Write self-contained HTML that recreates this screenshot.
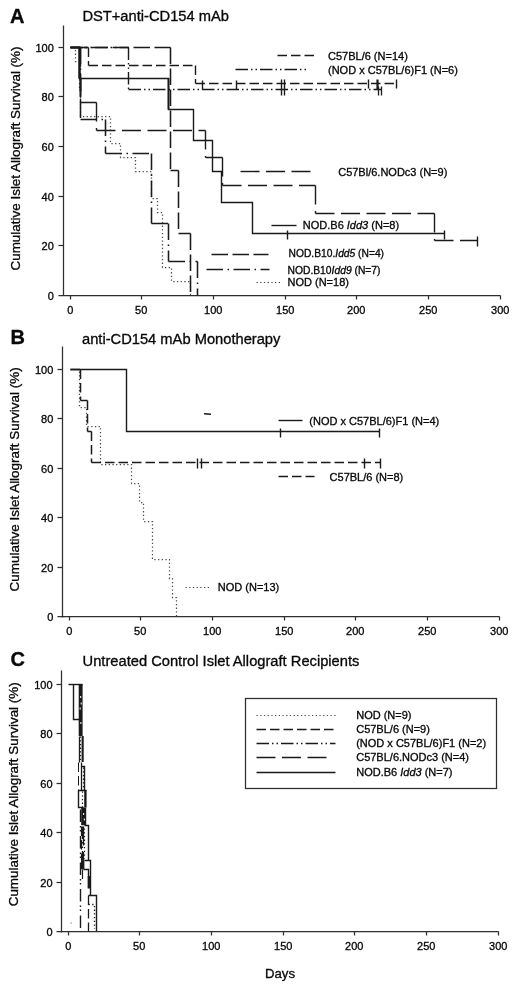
<!DOCTYPE html>
<html lang="en"><head><meta charset="utf-8"><title>Cumulative Islet Allograft Survival</title>
<style>html,body{margin:0;padding:0;background:#fff}svg{display:block}
text{font-family:"Liberation Sans",Arial,sans-serif;fill:#080808;stroke:#080808;stroke-width:0.32px}</style>
</head><body>
<svg width="520" height="984" viewBox="0 0 520 984">
<rect width="520" height="984" fill="#fff"/>
<text x="10.00" y="22.50" font-size="20.00" text-anchor="start" font-weight="bold" >A</text>
<text x="82.40" y="21.40" font-size="14.70" text-anchor="start" font-weight="normal" >DST+anti-CD154 mAb</text>
<path d="M63.5 25.5 L63.5 295.5" fill="none" stroke="#2e2e2e" stroke-width="1.25" />
<path d="M58.5 295.5 L500.5 295.5" fill="none" stroke="#2e2e2e" stroke-width="1.25" />
<path d="M58.5 245.5 L63.5 245.5" fill="none" stroke="#2e2e2e" stroke-width="1.25" />
<path d="M58.5 196.5 L63.5 196.5" fill="none" stroke="#2e2e2e" stroke-width="1.25" />
<path d="M58.5 146.5 L63.5 146.5" fill="none" stroke="#2e2e2e" stroke-width="1.25" />
<path d="M58.5 96.5 L63.5 96.5" fill="none" stroke="#2e2e2e" stroke-width="1.25" />
<path d="M58.5 47.5 L63.5 47.5" fill="none" stroke="#2e2e2e" stroke-width="1.25" />
<text x="53.80" y="299.60" font-size="11.00" text-anchor="end" font-weight="normal" >0</text>
<text x="53.80" y="249.60" font-size="11.00" text-anchor="end" font-weight="normal" >20</text>
<text x="53.80" y="200.60" font-size="11.00" text-anchor="end" font-weight="normal" >40</text>
<text x="53.80" y="150.60" font-size="11.00" text-anchor="end" font-weight="normal" >60</text>
<text x="53.80" y="100.60" font-size="11.00" text-anchor="end" font-weight="normal" >80</text>
<text x="53.80" y="51.60" font-size="11.00" text-anchor="end" font-weight="normal" >100</text>
<path d="M70.5 295.5 L70.5 299.5" fill="none" stroke="#2e2e2e" stroke-width="1.25" />
<text x="70.20" y="314.00" font-size="11.00" text-anchor="middle" font-weight="normal" >0</text>
<path d="M141.5 295.5 L141.5 299.5" fill="none" stroke="#2e2e2e" stroke-width="1.25" />
<text x="141.20" y="314.00" font-size="11.00" text-anchor="middle" font-weight="normal" >50</text>
<path d="M213.5 295.5 L213.5 299.5" fill="none" stroke="#2e2e2e" stroke-width="1.25" />
<text x="213.20" y="314.00" font-size="11.00" text-anchor="middle" font-weight="normal" >100</text>
<path d="M285.5 295.5 L285.5 299.5" fill="none" stroke="#2e2e2e" stroke-width="1.25" />
<text x="285.20" y="314.00" font-size="11.00" text-anchor="middle" font-weight="normal" >150</text>
<path d="M356.5 295.5 L356.5 299.5" fill="none" stroke="#2e2e2e" stroke-width="1.25" />
<text x="356.20" y="314.00" font-size="11.00" text-anchor="middle" font-weight="normal" >200</text>
<path d="M428.5 295.5 L428.5 299.5" fill="none" stroke="#2e2e2e" stroke-width="1.25" />
<text x="428.20" y="314.00" font-size="11.00" text-anchor="middle" font-weight="normal" >250</text>
<path d="M500.5 295.5 L500.5 299.5" fill="none" stroke="#2e2e2e" stroke-width="1.25" />
<text x="500.20" y="314.00" font-size="11.00" text-anchor="middle" font-weight="normal" >300</text>
<text transform="translate(19.90 158.50) rotate(-90)" font-size="13.45" text-anchor="middle">Cumulative Islet Allograft Survival (%)</text>
<path d="M70.5 47.5 L75.5 47.5 L75.5 61.5 L79.5 61.5 L79.5 88.5 L80.5 88.5 L80.5 116.5 L110.5 116.5 L110.5 143.5 L120.5 143.5 L120.5 157.5 L135.5 157.5 L135.5 171.5 L151.5 171.5 L151.5 198.5 L157.5 198.5 L157.5 212.5 L162.5 212.5 L162.5 267.5 L171.5 267.5 L171.5 281.5 L190.5 281.5 L190.5 295.5" fill="none" stroke="#4a4a4a" stroke-width="1.25" stroke-dasharray="1.3 2.4"/>
<path d="M70.5 47.5 L80.5 47.5 M80.5 47.5 L80.5 119.5 M80.5 119.5 L105.5 119.5 M105.5 119.5 L105.5 153.5 M105.5 153.5 L151.5 153.5 M151.5 153.5 L151.5 223.5 M151.5 223.5 L168.5 223.5 M168.5 223.5 L168.5 261.5 M168.5 261.5 L197.5 261.5 M197.5 261.5 L197.5 295.5" fill="none" stroke="#1a1a1a" stroke-width="1.55" stroke-dasharray="16.5 4.5 1.5 4.5"/>
<path d="M70.5 47.5 L170.5 47.5 M170.5 47.5 L170.5 170.5 M170.5 170.5 L178.5 170.5 M178.5 170.5 L178.5 233.5 M178.5 233.5 L190.5 233.5 M190.5 233.5 L190.5 295.5" fill="none" stroke="#1a1a1a" stroke-width="1.55" stroke-dasharray="16.5 4.5"/>
<path d="M70.5 47.5 L80.5 47.5 M80.5 47.5 L80.5 102.5 M80.5 102.5 L96.5 102.5 M96.5 102.5 L96.5 130.5 M96.5 130.5 L205.5 130.5 M205.5 130.5 L205.5 157.5 M205.5 157.5 L222.5 157.5 M222.5 157.5 L222.5 185.5 M222.5 185.5 L315.5 185.5 M315.5 185.5 L315.5 213.5 M315.5 213.5 L434.5 213.5 M434.5 213.5 L434.5 240.5 M434.5 240.5 L477.5 240.5" fill="none" stroke="#1a1a1a" stroke-width="1.40" stroke-dasharray="19 6.5"/>
<path d="M477.5 236.5 L477.5 246.5" fill="none" stroke="#1a1a1a" stroke-width="1.40" />
<path d="M70.5 47.5 L79.5 47.5 L79.5 78.5 L168.5 78.5 L168.5 109.5 L193.5 109.5 L193.5 140.5 L212.5 140.5 L212.5 171.5 L221.5 171.5 L221.5 202.5 L252.5 202.5 L252.5 233.5 L444.5 233.5" fill="none" stroke="#1a1a1a" stroke-width="1.40" />
<path d="M287.5 230.5 L287.5 239.5" fill="none" stroke="#1a1a1a" stroke-width="1.40" />
<path d="M444.5 230.5 L444.5 239.5" fill="none" stroke="#1a1a1a" stroke-width="1.40" />
<path d="M79.5 47.5 L79.5 78.5" fill="none" stroke="#1a1a1a" stroke-width="2.40" />
<path d="M80.5 78.5 L80.5 96.5" fill="none" stroke="#1a1a1a" stroke-width="2.00" />
<path d="M168.5 78.5 L168.5 109.5" fill="none" stroke="#1a1a1a" stroke-width="1.80" />
<path d="M70.5 47.5 L88.5 47.5 M88.5 47.5 L88.5 65.5 M88.5 65.5 L195.5 65.5 M195.5 65.5 L195.5 83.5 M195.5 83.5 L396.5 83.5" fill="none" stroke="#1a1a1a" stroke-width="1.40" stroke-dasharray="9.5 4"/>
<path d="M368.5 79.5 L368.5 88.5" fill="none" stroke="#1a1a1a" stroke-width="1.40" />
<path d="M396.5 79.5 L396.5 88.5" fill="none" stroke="#1a1a1a" stroke-width="1.40" />
<path d="M377.5 79.5 L377.5 89.5" fill="none" stroke="#1a1a1a" stroke-width="2.20" />
<path d="M70.5 47.5 L128.5 47.5 M128.5 47.5 L128.5 89.5 M128.5 89.5 L381.5 89.5" fill="none" stroke="#1a1a1a" stroke-width="1.40" stroke-dasharray="12.5 3 1.5 3 1.5 3"/>
<path d="M202.5 80.5 L202.5 89.5" fill="none" stroke="#1a1a1a" stroke-width="1.40" />
<path d="M236.5 80.5 L236.5 89.5" fill="none" stroke="#1a1a1a" stroke-width="1.40" />
<path d="M281.5 79.5 L281.5 95.5" fill="none" stroke="#1a1a1a" stroke-width="1.40" />
<path d="M284.5 79.5 L284.5 95.5" fill="none" stroke="#1a1a1a" stroke-width="1.40" />
<path d="M378.5 86.5 L378.5 95.5" fill="none" stroke="#1a1a1a" stroke-width="1.30" />
<path d="M381.5 86.5 L381.5 95.5" fill="none" stroke="#1a1a1a" stroke-width="1.30" />
<path d="M151.5 182.5 L151.5 187.5" fill="none" stroke="#1a1a1a" stroke-width="1.00" />
<path d="M277.5 55.5 L315.5 55.5" fill="none" stroke="#1a1a1a" stroke-width="1.40" stroke-dasharray="9.5 4"/>
<text x="328.00" y="59.50" font-size="11.00" text-anchor="start" font-weight="normal" >C57BL/6 (N=14)</text>
<path d="M235.5 69.5 L308.5 69.5" fill="none" stroke="#1a1a1a" stroke-width="1.40" stroke-dasharray="12.5 3 1.5 3 1.5 3"/>
<text x="328.00" y="74.40" font-size="11.00" text-anchor="start" font-weight="normal" >(NOD x C57BL/6)F1 (N=6)</text>
<path d="M240.5 171.5 L311.5 171.5" fill="none" stroke="#1a1a1a" stroke-width="1.40" stroke-dasharray="19 6.5"/>
<text x="338.20" y="176.00" font-size="11.00" text-anchor="start" font-weight="normal" >C57Bl/6.NODc3 (N=9)</text>
<path d="M271.5 225.5 L296.5 225.5" fill="none" stroke="#1a1a1a" stroke-width="1.40" />
<text x="302.80" y="229.20" font-size="11.00" text-anchor="start" font-weight="normal" >NOD.B6 <tspan font-style="italic">Idd3</tspan> (N=8)</text>
<path d="M211.5 254.5 L268.5 254.5" fill="none" stroke="#1a1a1a" stroke-width="1.70" stroke-dasharray="16.5 4.5"/>
<text x="288.60" y="257.40" font-size="10.25" text-anchor="start" font-weight="normal" >NOD.B10.<tspan font-style="italic">Idd5</tspan> (N=4)</text>
<path d="M206.5 269.5 L269.5 269.5" fill="none" stroke="#1a1a1a" stroke-width="1.70" stroke-dasharray="16.5 4.5 1.5 4.5"/>
<text x="287.50" y="274.00" font-size="10.30" text-anchor="start" font-weight="normal" >NOD.B10<tspan font-style="italic">Idd9</tspan> (N=7)</text>
<path d="M256.5 282.5 L282.5 282.5" fill="none" stroke="#444" stroke-width="1.20" stroke-dasharray="1.3 2.4"/>
<text x="287.50" y="285.60" font-size="11.00" text-anchor="start" font-weight="normal" >NOD (N=18)</text>
<text x="10.60" y="344.40" font-size="20.00" text-anchor="start" font-weight="bold" >B</text>
<text x="82.00" y="343.70" font-size="14.70" text-anchor="start" font-weight="normal" >anti-CD154 mAb Monotherapy</text>
<path d="M62.5 346.5 L62.5 617.5" fill="none" stroke="#2e2e2e" stroke-width="1.25" />
<path d="M57.5 616.5 L499.5 616.5" fill="none" stroke="#2e2e2e" stroke-width="1.25" />
<path d="M57.5 567.5 L62.5 567.5" fill="none" stroke="#2e2e2e" stroke-width="1.25" />
<path d="M57.5 517.5 L62.5 517.5" fill="none" stroke="#2e2e2e" stroke-width="1.25" />
<path d="M57.5 468.5 L62.5 468.5" fill="none" stroke="#2e2e2e" stroke-width="1.25" />
<path d="M57.5 418.5 L62.5 418.5" fill="none" stroke="#2e2e2e" stroke-width="1.25" />
<path d="M57.5 369.5 L62.5 369.5" fill="none" stroke="#2e2e2e" stroke-width="1.25" />
<text x="53.32" y="620.60" font-size="11.00" text-anchor="end" font-weight="normal" >0</text>
<text x="53.32" y="571.60" font-size="11.00" text-anchor="end" font-weight="normal" >20</text>
<text x="53.32" y="521.60" font-size="11.00" text-anchor="end" font-weight="normal" >40</text>
<text x="53.32" y="472.60" font-size="11.00" text-anchor="end" font-weight="normal" >60</text>
<text x="53.32" y="422.60" font-size="11.00" text-anchor="end" font-weight="normal" >80</text>
<text x="53.32" y="373.60" font-size="11.00" text-anchor="end" font-weight="normal" >100</text>
<path d="M69.5 616.5 L69.5 620.5" fill="none" stroke="#2e2e2e" stroke-width="1.25" />
<text x="69.20" y="635.30" font-size="11.00" text-anchor="middle" font-weight="normal" >0</text>
<path d="M140.5 616.5 L140.5 620.5" fill="none" stroke="#2e2e2e" stroke-width="1.25" />
<text x="140.20" y="635.30" font-size="11.00" text-anchor="middle" font-weight="normal" >50</text>
<path d="M212.5 616.5 L212.5 620.5" fill="none" stroke="#2e2e2e" stroke-width="1.25" />
<text x="212.20" y="635.30" font-size="11.00" text-anchor="middle" font-weight="normal" >100</text>
<path d="M284.5 616.5 L284.5 620.5" fill="none" stroke="#2e2e2e" stroke-width="1.25" />
<text x="284.20" y="635.30" font-size="11.00" text-anchor="middle" font-weight="normal" >150</text>
<path d="M355.5 616.5 L355.5 620.5" fill="none" stroke="#2e2e2e" stroke-width="1.25" />
<text x="355.20" y="635.30" font-size="11.00" text-anchor="middle" font-weight="normal" >200</text>
<path d="M427.5 616.5 L427.5 620.5" fill="none" stroke="#2e2e2e" stroke-width="1.25" />
<text x="427.20" y="635.30" font-size="11.00" text-anchor="middle" font-weight="normal" >250</text>
<path d="M499.5 616.5 L499.5 620.5" fill="none" stroke="#2e2e2e" stroke-width="1.25" />
<text x="499.20" y="635.30" font-size="11.00" text-anchor="middle" font-weight="normal" >300</text>
<text transform="translate(19.10 479.40) rotate(-90)" font-size="13.45" text-anchor="middle">Cumulative Islet Allograft Survival (%)</text>
<path d="M70.5 369.5 L79.5 369.5 L79.5 407.5 L86.5 407.5 L86.5 426.5 L100.5 426.5 L100.5 464.5 L131.5 464.5 L131.5 483.5 L139.5 483.5 L139.5 502.5 L143.5 502.5 L143.5 521.5 L152.5 521.5 L152.5 559.5 L169.5 559.5 L169.5 578.5 L172.5 578.5 L172.5 597.5 L176.5 597.5 L176.5 616.5" fill="none" stroke="#4a4a4a" stroke-width="1.25" stroke-dasharray="1.3 2.4"/>
<path d="M70.5 369.5 L80.5 369.5 M80.5 369.5 L80.5 400.5 M80.5 400.5 L87.5 400.5 M87.5 400.5 L87.5 431.5 M87.5 431.5 L91.5 431.5 M91.5 431.5 L91.5 462.5 M91.5 462.5 L380.5 462.5" fill="none" stroke="#1a1a1a" stroke-width="1.50" stroke-dasharray="9.5 4"/>
<path d="M197.5 458.5 L197.5 468.5" fill="none" stroke="#1a1a1a" stroke-width="1.40" />
<path d="M201.5 458.5 L201.5 468.5" fill="none" stroke="#1a1a1a" stroke-width="1.40" />
<path d="M380.5 458.5 L380.5 468.5" fill="none" stroke="#1a1a1a" stroke-width="1.40" />
<path d="M364.5 458.5 L364.5 468.5" fill="none" stroke="#1a1a1a" stroke-width="1.40" />
<path d="M70.5 369.5 L126.5 369.5 L126.5 431.5 L379.5 431.5" fill="none" stroke="#1a1a1a" stroke-width="1.40" />
<path d="M280.5 428.5 L280.5 437.5" fill="none" stroke="#1a1a1a" stroke-width="1.40" />
<path d="M379.5 428.5 L379.5 437.5" fill="none" stroke="#1a1a1a" stroke-width="1.40" />
<path d="M204.0 413.8 L211.0 414.3" fill="none" stroke="#1a1a1a" stroke-width="1.60" />
<path d="M278.5 420.5 L302.5 420.5" fill="none" stroke="#1a1a1a" stroke-width="1.40" />
<text x="309.30" y="424.70" font-size="11.00" text-anchor="start" font-weight="normal" >(NOD x C57BL/6)F1 (N=4)</text>
<path d="M278.5 476.5 L314.5 476.5" fill="none" stroke="#1a1a1a" stroke-width="1.40" stroke-dasharray="9.5 4"/>
<text x="329.60" y="480.80" font-size="11.00" text-anchor="start" font-weight="normal" >C57BL/6 (N=8)</text>
<path d="M185.5 587.5 L210.5 587.5" fill="none" stroke="#444" stroke-width="1.20" stroke-dasharray="1.3 2.4"/>
<text x="217.80" y="590.60" font-size="11.00" text-anchor="start" font-weight="normal" >NOD (N=13)</text>
<text x="10.40" y="666.00" font-size="20.00" text-anchor="start" font-weight="bold" >C</text>
<text x="82.60" y="666.30" font-size="14.70" text-anchor="start" font-weight="normal" >Untreated Control Islet Allograft Recipients</text>
<path d="M61.5 670.5 L61.5 932.5" fill="none" stroke="#2e2e2e" stroke-width="1.25" />
<path d="M56.5 931.5 L498.5 931.5" fill="none" stroke="#2e2e2e" stroke-width="1.25" />
<path d="M56.5 882.5 L61.5 882.5" fill="none" stroke="#2e2e2e" stroke-width="1.25" />
<path d="M56.5 832.5 L61.5 832.5" fill="none" stroke="#2e2e2e" stroke-width="1.25" />
<path d="M56.5 783.5 L61.5 783.5" fill="none" stroke="#2e2e2e" stroke-width="1.25" />
<path d="M56.5 733.5 L61.5 733.5" fill="none" stroke="#2e2e2e" stroke-width="1.25" />
<path d="M56.5 684.5 L61.5 684.5" fill="none" stroke="#2e2e2e" stroke-width="1.25" />
<text x="52.60" y="935.60" font-size="11.00" text-anchor="end" font-weight="normal" >0</text>
<text x="52.60" y="886.60" font-size="11.00" text-anchor="end" font-weight="normal" >20</text>
<text x="52.60" y="836.60" font-size="11.00" text-anchor="end" font-weight="normal" >40</text>
<text x="52.60" y="787.60" font-size="11.00" text-anchor="end" font-weight="normal" >60</text>
<text x="52.60" y="737.60" font-size="11.00" text-anchor="end" font-weight="normal" >80</text>
<text x="52.60" y="688.60" font-size="11.00" text-anchor="end" font-weight="normal" >100</text>
<path d="M68.5 931.5 L68.5 935.5" fill="none" stroke="#2e2e2e" stroke-width="1.25" />
<text x="68.20" y="950.20" font-size="11.00" text-anchor="middle" font-weight="normal" >0</text>
<path d="M139.5 931.5 L139.5 935.5" fill="none" stroke="#2e2e2e" stroke-width="1.25" />
<text x="139.20" y="950.20" font-size="11.00" text-anchor="middle" font-weight="normal" >50</text>
<path d="M211.5 931.5 L211.5 935.5" fill="none" stroke="#2e2e2e" stroke-width="1.25" />
<text x="211.20" y="950.20" font-size="11.00" text-anchor="middle" font-weight="normal" >100</text>
<path d="M283.5 931.5 L283.5 935.5" fill="none" stroke="#2e2e2e" stroke-width="1.25" />
<text x="283.20" y="950.20" font-size="11.00" text-anchor="middle" font-weight="normal" >150</text>
<path d="M354.5 931.5 L354.5 935.5" fill="none" stroke="#2e2e2e" stroke-width="1.25" />
<text x="354.20" y="950.20" font-size="11.00" text-anchor="middle" font-weight="normal" >200</text>
<path d="M426.5 931.5 L426.5 935.5" fill="none" stroke="#2e2e2e" stroke-width="1.25" />
<text x="426.20" y="950.20" font-size="11.00" text-anchor="middle" font-weight="normal" >250</text>
<path d="M498.5 931.5 L498.5 935.5" fill="none" stroke="#2e2e2e" stroke-width="1.25" />
<text x="498.20" y="950.20" font-size="11.00" text-anchor="middle" font-weight="normal" >300</text>
<text transform="translate(17.90 794.30) rotate(-90)" font-size="13.45" text-anchor="middle">Cumulative Islet Allograft Survival (%)</text>
<path d="M68.5 684.5 L82.5 684.5" fill="none" stroke="#1a1a1a" stroke-width="1.40" />
<path d="M73.5 684.5 L73.5 719.5 L79.5 719.5" fill="none" stroke="#1a1a1a" stroke-width="1.40" />
<rect x="78.7" y="684.0" width="3.9" height="52.0" fill="#1a1a1a"/>
<rect x="80.0" y="696.0" width="1.2" height="2.0" fill="#ddd"/>
<rect x="80.6" y="702.5" width="1.2" height="2.0" fill="#ddd"/>
<rect x="79.6" y="707.5" width="1.2" height="2.0" fill="#ddd"/>
<rect x="80.3" y="722.0" width="1.2" height="2.0" fill="#ddd"/>
<path d="M79.5 736.5 L79.5 762.5" fill="none" stroke="#1a1a1a" stroke-width="1.30" />
<path d="M80.5 736.5 L80.5 762.5" fill="none" stroke="#1a1a1a" stroke-width="1.20" stroke-dasharray="1.3 2.4"/>
<rect x="81.6" y="736.0" width="2.1" height="26.0" fill="#1a1a1a"/>
<path d="M78.5 762.5 L78.5 790.5" fill="none" stroke="#1a1a1a" stroke-width="1.00" stroke-dasharray="9.5 4"/>
<path d="M81.5 762.5 L81.5 790.5" fill="none" stroke="#1a1a1a" stroke-width="1.30" />
<path d="M81.5 766.5 L84.5 766.5 L84.5 790.5" fill="none" stroke="#1a1a1a" stroke-width="1.40" />
<path d="M83.5 767.5 L83.5 790.5" fill="none" stroke="#1a1a1a" stroke-width="1.20" stroke-dasharray="1.3 2.4"/>
<path d="M86.5 790.5 L78.5 790.5 L78.5 807.5 L83.5 807.5" fill="none" stroke="#1a1a1a" stroke-width="1.40" />
<rect x="84.2" y="790.0" width="2.4" height="17.5" fill="#1a1a1a"/>
<path d="M82.5 791.5 L82.5 807.5" fill="none" stroke="#1a1a1a" stroke-width="1.20" stroke-dasharray="1.3 2.4"/>
<rect x="81.2" y="807.5" width="5.0" height="17.7" fill="#1a1a1a"/>
<rect x="83.0" y="813.0" width="1.2" height="2.0" fill="#ddd"/>
<rect x="83.8" y="818.5" width="1.2" height="2.0" fill="#ddd"/>
<path d="M84.5 825.5 L88.5 825.5 L88.5 860.5" fill="none" stroke="#1a1a1a" stroke-width="1.40" />
<path d="M81.5 826.5 L81.5 860.5" fill="none" stroke="#1a1a1a" stroke-width="1.20" stroke-dasharray="9.5 4"/>
<path d="M82.5 826.5 L82.5 860.5" fill="none" stroke="#1a1a1a" stroke-width="1.30" stroke-dasharray="12.5 3 1.5 3 1.5 3"/>
<path d="M83.5 826.5 L83.5 860.5" fill="none" stroke="#1a1a1a" stroke-width="1.30" stroke-dasharray="19 6.5"/>
<path d="M84.5 828.5 L84.5 858.5" fill="none" stroke="#1a1a1a" stroke-width="1.20" stroke-dasharray="1.3 2.4"/>
<path d="M84.5 860.5 L90.5 860.5 L90.5 895.5" fill="none" stroke="#1a1a1a" stroke-width="1.40" />
<rect x="81.0" y="860.2" width="3.4" height="9.1" fill="#1a1a1a"/>
<path d="M83.5 869.5 L88.5 869.5 L88.5 876.5" fill="none" stroke="#1a1a1a" stroke-width="1.40" />
<rect x="87.6" y="876.0" width="2.9" height="12.5" fill="#1a1a1a"/>
<path d="M82.5 869.5 L82.5 880.5" fill="none" stroke="#1a1a1a" stroke-width="1.20" stroke-dasharray="9.5 4"/>
<path d="M88.5 895.5 L96.5 895.5 L96.5 931.5" fill="none" stroke="#1a1a1a" stroke-width="1.40" />
<path d="M88.5 895.5 L88.5 931.5" fill="none" stroke="#1a1a1a" stroke-width="1.30" stroke-dasharray="9.5 4"/>
<path d="M88.5 904.5 L94.5 904.5 L94.5 928.5" fill="none" stroke="#1a1a1a" stroke-width="1.30" stroke-dasharray="1.3 2.4"/>
<path d="M80.5 808 V928" fill="none" stroke="#1a1a1a" stroke-width="1.4" stroke-dasharray="12.5 4 1.5 2.5 1.5 4.5" stroke-dashoffset="25"/>
<circle cx="71.3" cy="923" r="0.9" fill="#bbb"/>
<rect x="245.5" y="698.5" width="251" height="90" fill="none" stroke="#2e2e2e" stroke-width="1.25"/>
<path d="M256.5 715.5 L335.5 715.5" fill="none" stroke="#555" stroke-width="1.20" stroke-dasharray="1.3 2.4"/>
<path d="M256.5 729.5 L335.5 729.5" fill="none" stroke="#1a1a1a" stroke-width="1.70" stroke-dasharray="9.5 4"/>
<path d="M256.5 743.5 L335.5 743.5" fill="none" stroke="#1a1a1a" stroke-width="1.70" stroke-dasharray="12.5 3 1.5 3 1.5 3"/>
<path d="M256.5 757.5 L328.5 757.5" fill="none" stroke="#1a1a1a" stroke-width="1.60" stroke-dasharray="19 6.5"/>
<path d="M256.5 772.5 L335.5 772.5" fill="none" stroke="#1a1a1a" stroke-width="1.60" />
<text x="356.20" y="719.10" font-size="11.00" text-anchor="start" font-weight="normal" >NOD (N=9)</text>
<text x="356.20" y="733.10" font-size="11.00" text-anchor="start" font-weight="normal" >C57BL/6 (N=9)</text>
<text x="356.20" y="747.10" font-size="11.00" text-anchor="start" font-weight="normal" >(NOD x C57BL/6)F1 (N=2)</text>
<text x="356.20" y="761.10" font-size="11.00" text-anchor="start" font-weight="normal" >C57BL/6.NODc3 (N=4)</text>
<text x="356.20" y="776.10" font-size="11.00" text-anchor="start" font-weight="normal" >NOD.B6 <tspan font-style="italic">Idd3</tspan> (N=7)</text>
<text x="280.00" y="977.80" font-size="13.20" text-anchor="middle" font-weight="normal" >Days</text>
</svg>
</body></html>
